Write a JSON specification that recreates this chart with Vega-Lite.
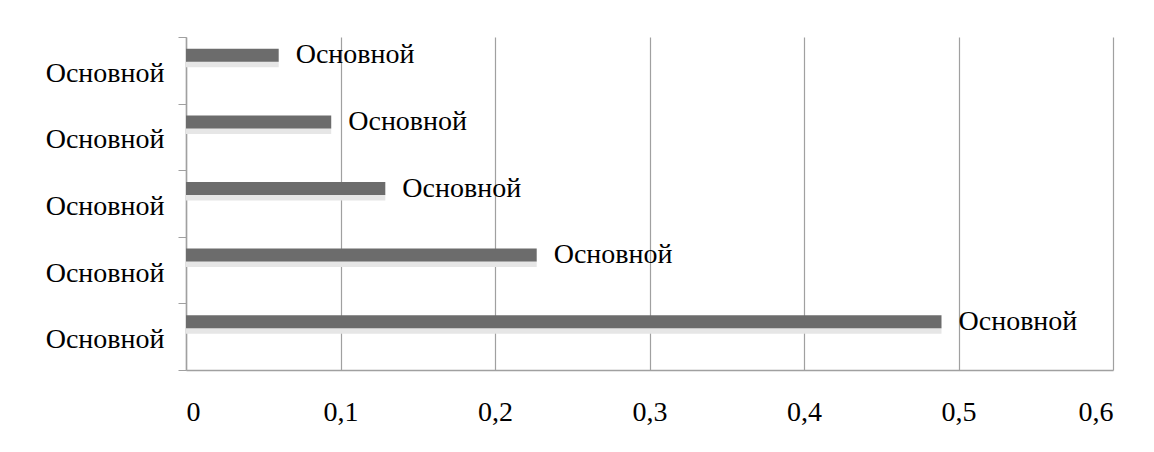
{
  "$schema": "https://vega.github.io/schema/vega-lite/v6.json",
  "width": 927,
  "height": 333,
  "autosize": "none",
  "padding": {"left": 186, "top": 37, "right": 41, "bottom": 82},
  "background": "white",
  "config": {
    "view": {"stroke": null},
    "font": "'Liberation Serif', 'DejaVu Serif', serif",
    "axis": {"labelFont": "'Liberation Serif', 'DejaVu Serif', serif", "labelFontSize": 28, "labelColor": "black", "domainColor": "#a0a0a0", "tickColor": "#a0a0a0", "gridColor": "#a0a0a0", "titleFontSize": 0}
  },
  "data": {
    "values": [
      {"idx": 1, "name": "Основной", "value": 0.060},
      {"idx": 2, "name": "Основной", "value": 0.094},
      {"idx": 3, "name": "Основной", "value": 0.129},
      {"idx": 4, "name": "Основной", "value": 0.227},
      {"idx": 5, "name": "Основной", "value": 0.489}
    ]
  },
  "encoding": {
    "y": {
      "field": "idx",
      "type": "ordinal",
      "title": null,
      "scale": {"paddingInner": 0, "paddingOuter": 0},
      "axis": {
        "labelExpr": "datum.label ? 'Основной' : ''",
        "tickBand": "extent",
        "tickSize": 8,
        "labelPadding": 14,
        "labelOffset": 3,
        "grid": false,
        "domainWidth": 1.5
      }
    }
  },
  "layer": [
    {
      "mark": {"type": "bar", "size": 6, "yOffset": -6, "color": "#e6e6e6"},
      "encoding": {
        "x": {"field": "value", "type": "quantitative"}
      }
    },
    {
      "mark": {"type": "bar", "size": 13, "yOffset": -15, "color": "#6c6c6c"},
      "encoding": {
        "x": {
          "field": "value",
          "type": "quantitative",
          "title": null,
          "scale": {"domain": [0, 0.6], "nice": false},
          "axis": {
            "values": [0, 0.1, 0.2, 0.3, 0.4, 0.5, 0.6],
            "labelExpr": "replace(format(datum.value, '.1~f'), '.', ',')",
            "grid": true,
            "ticks": false,
            "labelPadding": 28,
            "domainWidth": 1.5,
            "gridWidth": 1.2
          }
        }
      }
    },
    {
      "mark": {"type": "text", "align": "left", "baseline": "middle", "dx": 17, "yOffset": -15, "fontSize": 28, "font": "'Liberation Serif', 'DejaVu Serif', serif", "color": "black"},
      "encoding": {
        "x": {"field": "value", "type": "quantitative"},
        "text": {"field": "name"}
      }
    }
  ]
}
